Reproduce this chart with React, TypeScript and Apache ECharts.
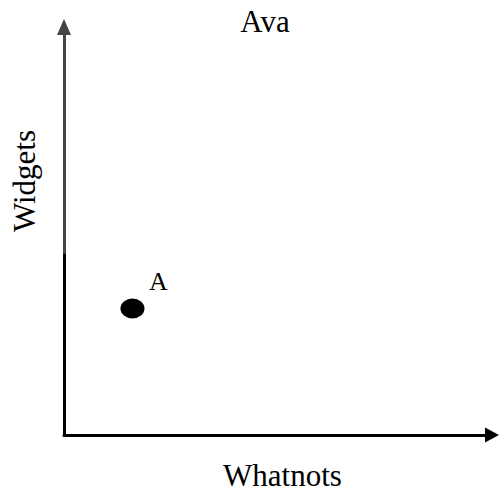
import React, { useEffect, useRef } from "react";
import * as echarts from "echarts";

const titleText = "Ava";
const xName = "Whatnots";
const yName = "Widgets";
const pointNames = ["A"];
const pointX = [1.6];
const pointY = [3.1];
const axisMin = 0;
const axisMax = 10;
const darkSegment = [[0, 0], [0, 4.44]];

export default function App() {
  const ref = useRef<HTMLDivElement>(null);
  useEffect(() => {
    if (!ref.current) return;
    const chart = echarts.init(ref.current, null, { renderer: "svg" });
    const font = "'Liberation Serif', 'Times New Roman', serif";
    chart.setOption({
      animation: false,
      title: {
        text: titleText,
        left: 260,
        top: 1,
        textAlign: "center",
        textStyle: { fontFamily: font, fontSize: 31, fontWeight: "normal", color: "#000" },
      },
      grid: { left: 64, right: 7, top: 27, bottom: 59, containLabel: false },
      xAxis: {
        type: "value",
        min: axisMin,
        max: axisMax,
        name: xName,
        nameLocation: "middle",
        nameGap: 25,
        nameTextStyle: { fontFamily: font, fontSize: 31, color: "#000", padding: [0, 0, 0, 9] },
        axisLine: {
          show: true,
          symbol: ["none", "triangle"],
          symbolSize: [15, 14],
          lineStyle: { color: "#000", width: 3 },
        },
        axisTick: { show: false },
        axisLabel: { show: false },
        splitLine: { show: false },
      },
      yAxis: {
        type: "value",
        min: axisMin,
        max: axisMax,
        axisLine: {
          show: true,
          symbol: ["none", "triangle"],
          symbolSize: [14, 16],
          lineStyle: { color: "#444", width: 3 },
        },
        axisTick: { show: false },
        axisLabel: { show: false },
        splitLine: { show: false },
      },
      graphic: [
        {
          type: "text",
          x: 24,
          y: 181,
          rotation: Math.PI / 2,
          style: {
            text: yName,
            font: `31px ${font}`,
            fill: "#000",
            align: "center",
            verticalAlign: "middle",
          },
        },
      ],
      series: [
        {
          type: "scatter",
          data: pointX.map((x, i) => ({ name: pointNames[i], value: [x, pointY[i]] })),
          symbol: "path://M0 10A10 10 0 1 1 20 10A10 10 0 1 1 0 10Z",
          symbolSize: [24, 20],
          itemStyle: { color: "#000", opacity: 1 },
          label: {
            show: true,
            position: "inside",
            offset: [26, -27],
            formatter: "{b}",
            fontFamily: font,
            fontSize: 26,
            color: "#000",
          },
          markLine: {
            silent: true,
            symbol: ["none", "none"],
            label: { show: false },
            lineStyle: { color: "#000", width: 3, type: "solid" },
            data: [[{ coord: darkSegment[0] }, { coord: darkSegment[1] }]],
          },
        },
      ],
    });
    return () => chart.dispose();
  }, []);
  return <div ref={ref} style={{ position: "absolute", left: 0, top: 0, width: 499, height: 496 }} />;
}
